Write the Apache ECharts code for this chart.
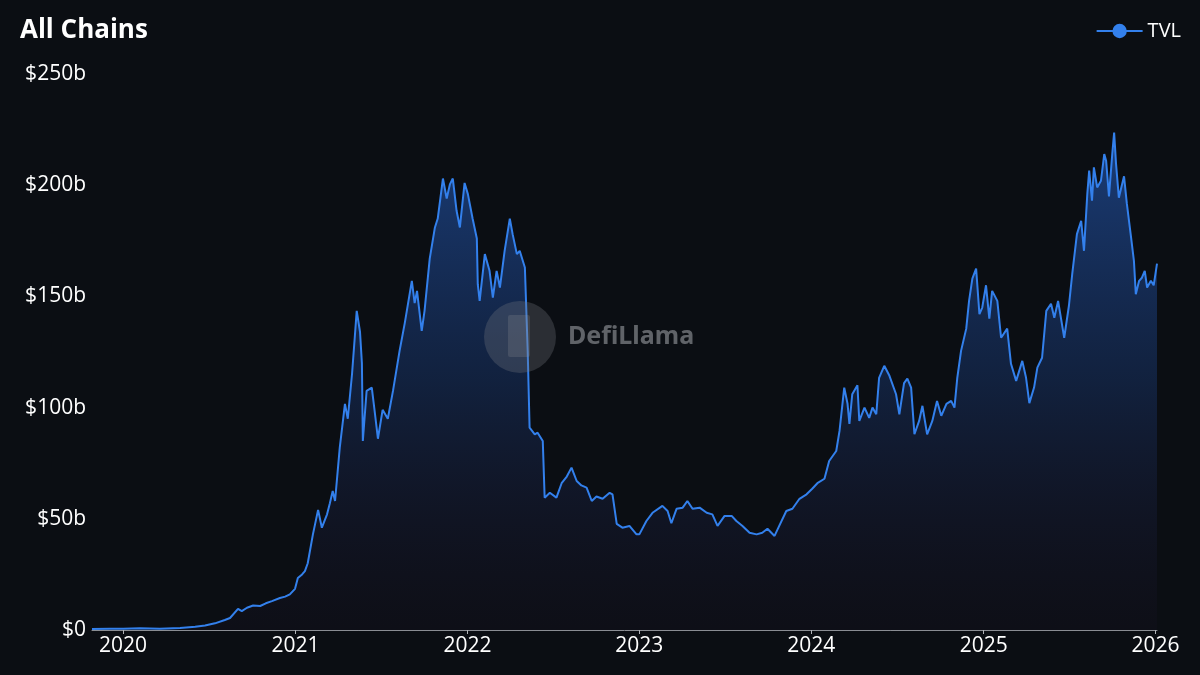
<!DOCTYPE html>
<html>
<head>
<meta charset="utf-8">
<script src="https://cdn.jsdelivr.net/npm/echarts@6/dist/echarts.min.js"></script>
<style>
html,body{margin:0;padding:0;background:#0b0e13;}
#chart{width:1200px;height:675px;}
</style>
</head>
<body>
<div id="chart"></div>
<script>
const titleText = 'All Chains';
const seriesName = 'TVL';
const yearTicks = ['2020-01-01','2021-01-01','2022-01-01','2023-01-01','2024-01-01','2025-01-01','2026-01-01'];
const yTicks = [0, 50, 100, 150, 200, 250];

const dates = [
'2019-10-27','2019-12-04','2020-01-01','2020-02-06','2020-03-19','2020-05-01','2020-06-02','2020-06-23','2020-07-14','2020-08-04',
'2020-08-15','2020-09-01','2020-09-09','2020-09-20','2020-10-03','2020-10-18','2020-10-30','2020-11-12','2020-11-29','2020-12-10',
'2020-12-20','2020-12-31','2021-01-06','2021-01-15','2021-01-21','2021-01-27','2021-02-07','2021-02-18','2021-02-26','2021-03-09',
'2021-03-15','2021-03-21','2021-03-26','2021-04-05','2021-04-16','2021-04-22','2021-05-01','2021-05-07','2021-05-11','2021-05-18',
'2021-05-22','2021-05-24','2021-06-01','2021-06-12','2021-06-18','2021-06-25','2021-07-05','2021-07-16','2021-07-27','2021-08-10',
'2021-08-21','2021-09-05','2021-09-11','2021-09-16','2021-09-26','2021-10-02','2021-10-13','2021-10-24','2021-10-30','2021-11-10',
'2021-11-18','2021-11-25','2021-12-01','2021-12-09','2021-12-16','2021-12-26','2022-01-02','2022-01-12','2022-01-21','2022-01-23',
'2022-01-27','2022-02-07','2022-02-17','2022-02-24','2022-03-04','2022-03-11','2022-03-21','2022-04-01','2022-04-07','2022-04-16',
'2022-04-22','2022-05-03','2022-05-09','2022-05-13','2022-05-24','2022-05-30','2022-06-10','2022-06-14','2022-06-25','2022-07-09',
'2022-07-20','2022-07-31','2022-08-10','2022-08-21','2022-08-31','2022-09-11','2022-09-22','2022-10-02','2022-10-15','2022-10-30',
'2022-11-05','2022-11-14','2022-11-26','2022-12-11','2022-12-26','2023-01-01','2023-01-16','2023-01-29','2023-02-19','2023-03-02',
'2023-03-10','2023-03-21','2023-04-03','2023-04-13','2023-04-24','2023-05-09','2023-05-24','2023-06-05','2023-06-16','2023-07-01',
'2023-07-16','2023-07-26','2023-08-08','2023-08-23','2023-09-07','2023-09-19','2023-09-30','2023-10-15','2023-10-25','2023-11-09',
'2023-11-22','2023-12-07','2023-12-22','2024-01-03','2024-01-14','2024-01-29','2024-02-08','2024-02-23','2024-03-01','2024-03-11',
'2024-03-18','2024-03-22','2024-03-28','2024-04-08','2024-04-12','2024-04-23','2024-05-03','2024-05-10','2024-05-18','2024-05-24',
'2024-06-04','2024-06-15','2024-06-29','2024-07-06','2024-07-16','2024-07-23','2024-07-31','2024-08-07','2024-08-17','2024-08-24',
'2024-09-03','2024-09-14','2024-09-24','2024-10-03','2024-10-14','2024-10-24','2024-10-31','2024-11-06','2024-11-14','2024-11-25',
'2024-12-01','2024-12-08','2024-12-16','2024-12-23','2024-12-29','2025-01-06','2025-01-13','2025-01-19','2025-01-30','2025-02-07',
'2025-02-20','2025-02-28','2025-03-11','2025-03-24','2025-04-01','2025-04-08','2025-04-18','2025-04-25','2025-05-05','2025-05-14',
'2025-05-24','2025-05-31','2025-06-08','2025-06-21','2025-07-01','2025-07-08','2025-07-18','2025-07-27','2025-08-02','2025-08-09',
'2025-08-13','2025-08-19','2025-08-23','2025-08-30','2025-09-07','2025-09-14','2025-09-18','2025-09-24','2025-10-01','2025-10-05',
'2025-10-09','2025-10-15','2025-10-26','2025-11-01','2025-11-10','2025-11-16','2025-11-20','2025-11-27','2025-12-03','2025-12-09',
'2025-12-14','2025-12-22','2025-12-28','2026-01-04'
];
const tvl = [
0.5,0.6,0.6,0.8,0.6,0.9,1.5,2.0,3.0,4.5,
5.4,9.5,8.5,10,11,10.8,12,13,14.4,15,
16,18.5,23.4,25,26.5,30,43,54,46,52,
57,62.5,58,82,101.7,95,115,132,143.5,134,
120,85,107.5,109,98.5,86,99,95,107.5,125.5,
138,157,147,152.5,134.5,143.5,167,181,185,203,
194,200.5,203,188.5,181,201,196,185,176,155.5,
148,169,161.5,149.5,161.5,154,170.5,185,178,169,
170.5,163,125.5,91,88,88.7,85,59.5,61.7,59.5,
66,69,73,67,65,64,58,60,59,61.7,
61,47.7,46,46.8,43,43,49,52.7,55.8,53.5,
48,54.5,55,58,54.5,55,52.7,52,46.8,51.3,
51.3,49,46.8,43.7,43,43.7,45.5,42.3,46.8,53.5,
54.5,59,61,63.5,66,68,76,80.5,89.5,109,
101.7,92.7,106,110,94,100,95.4,100,97,113.4,
118.8,114.3,106,97,111,113,109,88,94,100.8,
88,94,103,96.3,101.7,103,100,113.4,125.5,135.5,
148,158,162.5,142,145,155,140,152.5,148,131.4,
135.5,119.7,112,121,113.4,102,109,118,122.4,143.5,
146.7,140.4,148,131.4,145.8,160,178,184,170.5,196,
206.6,193,208,199,202,214,211,195,214,223.7,
209.7,194.4,204,191.7,176.4,166,151,157,158.4,161.5,
154,157,155,164.7
];

const chart = echarts.init(document.getElementById('chart'), null, {renderer:'canvas'});
const font = "'Open Sans', 'Noto Sans', sans-serif";
const toTime = d => Date.parse(d + 'T00:00:00Z');
const tickTimes = yearTicks.map(toTime);

chart.setOption({
  backgroundColor: '#0b0e13',
  animation: false,
  title: {
    text: titleText,
    left: 15, top: 13,
    textStyle: {color:'#ffffff', fontSize: 26, fontWeight: 'bold', fontFamily: font}
  },
  legend: {
    data: [seriesName],
    right: 14, top: 16,
    itemWidth: 46, itemHeight: 18, itemGap: 6,
    textStyle: {color:'#ffffff', fontSize: 20, fontFamily: font}
  },
  grid: {left: 92, right: 43, top: 74, bottom: 45, containLabel: false},
  xAxis: {
    type: 'value',
    min: toTime(dates[0]),
    max: toTime(dates[dates.length-1]),
    axisLine: {show: true, lineStyle: {color: '#8a8d93', width: 1}},
    axisTick: {show: true, customValues: tickTimes, length: 4, lineStyle:{color:'#b0b3b8'}},
    axisLabel: {
      customValues: tickTimes,
      color: '#ffffff', fontSize: 21, fontFamily: font, margin: 6,
      formatter: v => String(new Date(v).getUTCFullYear())
    },
    splitLine: {show: false}
  },
  yAxis: {
    type: 'value',
    min: yTicks[0], max: yTicks[yTicks.length-1], interval: 50,
    axisLine: {show: false},
    axisTick: {show: false},
    splitLine: {show: false},
    axisLabel: {
      color: '#ffffff', fontSize: 21, fontFamily: font, margin: 6,
      formatter: v => v === 0 ? '$0' : '$' + v + 'b'
    }
  },
  series: [{
    name: seriesName,
    type: 'line',
    data: dates.map((d, i) => [toTime(d), tvl[i]]),
    symbol: 'circle',
    symbolSize: 14,
    showSymbol: false,
    lineStyle: {color: '#3380ec', width: 2},
    itemStyle: {color: '#3380ec'},
    areaStyle: {
      color: new echarts.graphic.LinearGradient(0, 0, 0, 1, [
        {offset: 0, color: 'rgba(42,110,225,0.7)'},
        {offset: 0.5, color: 'rgba(34,82,172,0.4)'},
        {offset: 1, color: 'rgba(45,25,65,0.12)'}
      ])
    },
    z: 2
  }],
  graphic: [
    {type:'circle', shape:{cx:520, cy:337, r:36}, style:{fill:'rgba(120,122,128,0.3)'}, z: 100, silent: true},
    {type:'rect', shape:{x:508, y:315, width:22, height:42, r:2}, style:{fill:'rgba(150,150,155,0.22)'}, z: 101, silent: true},
    {type:'text', left: 568, top: 324, style:{text:'DefiLlama', fill:'rgba(125,128,133,0.75)', font: "bold 25px 'Noto Sans', sans-serif"}, z: 100, silent: true}
  ]
});
</script>
</body>
</html>
